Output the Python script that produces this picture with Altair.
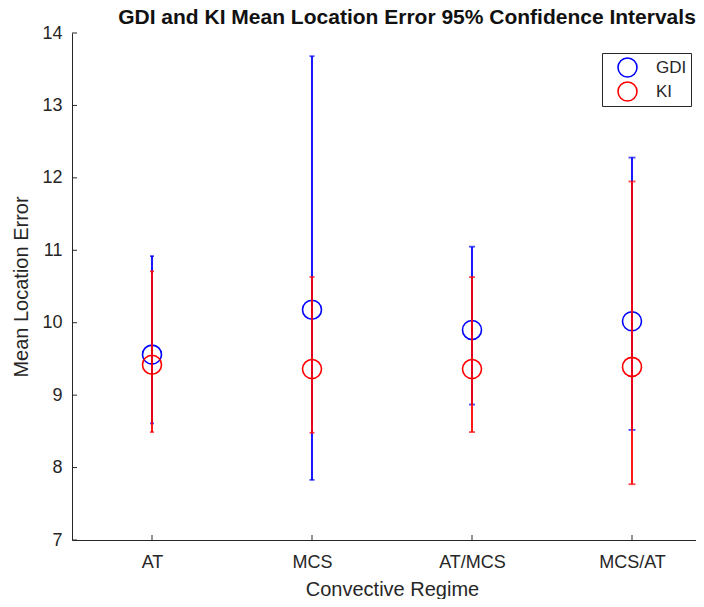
import altair as alt
import pandas as pd

categories = ["AT", "MCS", "AT/MCS", "MCS/AT"]
series = ["GDI", "KI"]
gdi_mean = [9.56, 10.18, 9.90, 10.02]
gdi_low = [8.61, 7.83, 8.87, 8.52]
gdi_high = [10.92, 13.68, 11.05, 12.28]
ki_mean = [9.42, 9.36, 9.36, 9.39]
ki_low = [8.49, 8.48, 8.49, 7.77]
ki_high = [10.71, 10.63, 10.63, 11.95]
y_ticks = [7, 8, 9, 10, 11, 12, 13, 14]

rows = []
for s, m, lo, hi in [("GDI", gdi_mean, gdi_low, gdi_high), ("KI", ki_mean, ki_low, ki_high)]:
    for c, a, b, d in zip(categories, m, lo, hi):
        rows.append({"cat": c, "series": s, "mean": a, "low": b, "high": d})
df = pd.DataFrame(rows)

W, H = 624, 507
AX = "#262626"
FONT = "Liberation Sans"
colors = {"GDI": "#0000ff", "KI": "#ff0000"}

xs = alt.Scale(type="point", domain=categories, padding=0.5, range=[0, 640])
ys = alt.Scale(domain=[7, 14], nice=False, zero=False)
cap_scale = alt.Scale(domain=categories, range=[4, 7, 12, 14])
color_scale = alt.Scale(domain=series, range=[colors["GDI"], colors["KI"]])

x_enc = alt.X("cat:N", scale=xs, sort=categories,
              axis=alt.Axis(title="Convective Regime", ticks=False, labelPadding=13,
                            titlePadding=8))
y_axis = alt.Axis(title="Mean Location Error", values=y_ticks, ticks=False, format="d",
                  labelPadding=10, titlePadding=10, grid=False)

base = alt.Chart(df)
layers = []
for s in series:
    d = base.transform_filter(alt.datum.series == s)
    col = colors[s]
    layers.append(d.mark_rule(color=col, strokeWidth=1.8).encode(
        x=x_enc, y=alt.Y("low:Q", scale=ys, axis=y_axis), y2="high:Q"))
    for f in ["low", "high"]:
        layers.append(d.mark_tick(color=col, thickness=1.8).encode(
            x=alt.X("cat:N", scale=xs, sort=categories),
            y=alt.Y(f + ":Q", scale=ys),
            size=alt.Size("cat:N", scale=cap_scale, legend=None)))
    layers.append(d.mark_point(shape="circle", filled=False, size=361, strokeWidth=1.6,
                               opacity=1).encode(
        x=alt.X("cat:N", scale=xs, sort=categories),
        y=alt.Y("mean:Q", scale=ys),
        color=alt.Color("series:N", scale=color_scale, legend=alt.Legend(
            title=None, orient="none", legendX=530, legendY=20,
            padding=4, symbolOffset=11, labelOffset=18, rowPadding=3, clipHeight=21,
            symbolSize=361, symbolStrokeWidth=1.6, symbolType="circle",
            labelFontSize=17, labelFont=FONT, labelColor=AX,
            strokeColor=AX, fillColor="white", cornerRadius=0))))

# inward axis ticks
ytick_df = pd.DataFrame({"v": y_ticks})
layers.append(alt.Chart(ytick_df).mark_rule(color=AX, strokeWidth=1).encode(
    y=alt.Y("v:Q", scale=ys), x=alt.value(0), x2=alt.value(5)))
xtick_df = pd.DataFrame({"cat": categories})
layers.append(alt.Chart(xtick_df).mark_rule(color=AX, strokeWidth=1).encode(
    x=alt.X("cat:N", scale=xs, sort=categories), y=alt.value(H), y2=alt.value(H - 5)))

chart = alt.layer(*layers).properties(
    width=W, height=H,
    autosize=alt.AutoSizeParams(type="none"),
    padding={"left": 64, "top": 25, "right": 0, "bottom": 59},
    title=alt.TitleParams("GDI and KI Mean Location Error 95% Confidence Intervals",
                          fontSize=21, fontWeight="bold", font=FONT, color="#111111",
                          anchor="middle", baseline="bottom", offset=6, dx=23, dy=31),
).configure_view(stroke=None).configure_axis(
    domainColor=AX, domainWidth=1, labelColor=AX, titleColor=AX,
    labelFont=FONT, titleFont=FONT, labelFontSize=18, titleFontSize=20,
    titleFontWeight="normal", labelAngle=0
)

chart.save("out.html", embed_options={"renderer": "svg", "actions": False})
